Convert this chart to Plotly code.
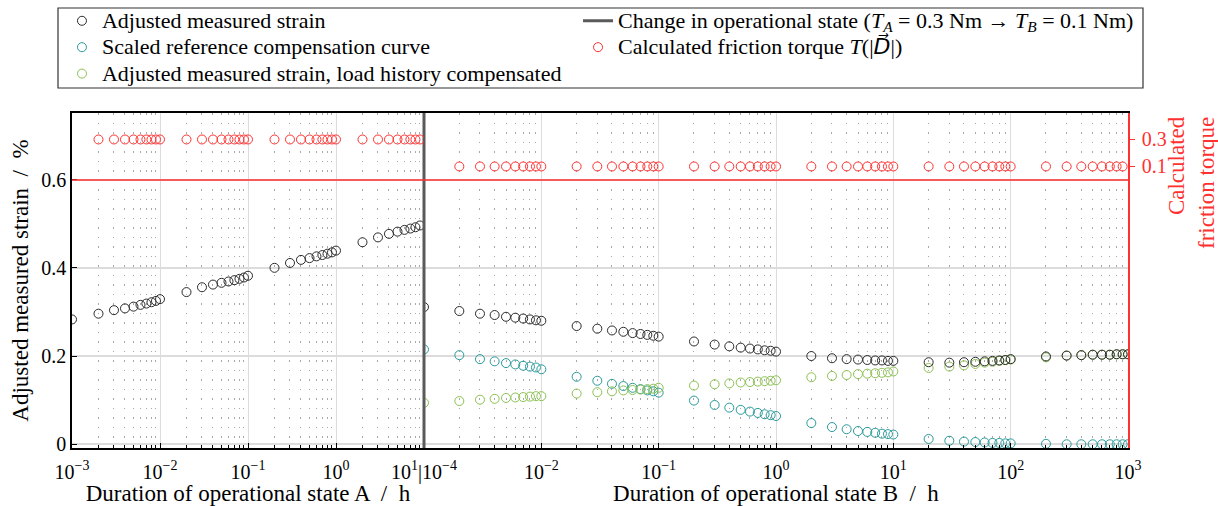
import plotly.graph_objects as go

# ---------------- data ----------------
# left panel: duration of operational state A (h)
xa_black = [0.001,
            0.002, 0.003, 0.004, 0.005, 0.006, 0.007, 0.008, 0.009, 0.01,
            0.02, 0.03, 0.04, 0.05, 0.06, 0.07, 0.08, 0.09, 0.1,
            0.2, 0.3, 0.4, 0.5, 0.6, 0.7, 0.8, 0.9, 1.0,
            2, 3, 4, 5, 6, 7, 8, 9]
ya_black = [0.283,
            0.296, 0.304, 0.308, 0.312, 0.316, 0.319, 0.322, 0.325, 0.329,
            0.345, 0.356, 0.362, 0.366, 0.369, 0.372, 0.375, 0.378, 0.382,
            0.400, 0.411, 0.418, 0.422, 0.426, 0.429, 0.432, 0.435, 0.439,
            0.458, 0.469, 0.477, 0.482, 0.486, 0.489, 0.492, 0.496]
xa_red = [0.002, 0.003, 0.004, 0.005, 0.006, 0.007, 0.008, 0.009, 0.01,
          0.02, 0.03, 0.04, 0.05, 0.06, 0.07, 0.08, 0.09, 0.1,
          0.2, 0.3, 0.4, 0.5, 0.6, 0.7, 0.8, 0.9, 1.0,
          2, 3, 4, 5, 6, 7, 8, 9]
ya_red = [0.3] * len(xa_red)

# right panel: duration of operational state B (h)
xb = [0.001,
      0.002, 0.003, 0.004, 0.005, 0.006, 0.007, 0.008, 0.009, 0.01,
      0.02, 0.03, 0.04, 0.05, 0.06, 0.07, 0.08, 0.09, 0.1,
      0.2, 0.3, 0.4, 0.5, 0.6, 0.7, 0.8, 0.9, 1.0,
      2, 3, 4, 5, 6, 7, 8, 9, 10,
      20, 30, 40, 50, 60, 70, 80, 90, 100,
      200, 300, 400, 500, 600, 700, 800, 900, 1000]
yb_black = [0.311,
            0.302, 0.296, 0.293, 0.289, 0.287, 0.285, 0.283, 0.281, 0.280,
            0.268, 0.262, 0.258, 0.255, 0.252, 0.250, 0.248, 0.246, 0.244,
            0.233, 0.226, 0.222, 0.219, 0.217, 0.215, 0.213, 0.212, 0.210,
            0.200, 0.195, 0.193, 0.192, 0.191, 0.190, 0.190, 0.189, 0.189,
            0.186, 0.185, 0.186, 0.187, 0.188, 0.189, 0.190, 0.191, 0.193,
            0.199, 0.201, 0.202, 0.203, 0.203, 0.203, 0.204, 0.204, 0.204]
yb_teal = [0.215,
           0.202, 0.193, 0.188, 0.184, 0.181, 0.178, 0.176, 0.174, 0.170,
           0.153, 0.144, 0.137, 0.132, 0.128, 0.125, 0.122, 0.120, 0.117,
           0.099, 0.089, 0.083, 0.078, 0.074, 0.071, 0.068, 0.066, 0.064,
           0.048, 0.039, 0.034, 0.030, 0.028, 0.026, 0.024, 0.023, 0.022,
           0.012, 0.008, 0.006, 0.005, 0.004, 0.003, 0.003, 0.002, 0.002,
           0.001, 0.000, 0.000, 0.000, 0.000, 0.000, 0.000, 0.000, 0.000]
yb_green = [0.094,
            0.098, 0.101, 0.103, 0.105, 0.106, 0.107, 0.108, 0.109, 0.109,
            0.115, 0.118, 0.120, 0.122, 0.123, 0.124, 0.125, 0.126, 0.128,
            0.133, 0.136, 0.138, 0.140, 0.141, 0.142, 0.143, 0.144, 0.145,
            0.152, 0.155, 0.157, 0.159, 0.160, 0.161, 0.162, 0.163, 0.165,
            0.173, 0.176, 0.179, 0.182, 0.185, 0.187, 0.189, 0.191, 0.192,
            0.197, 0.201, 0.202, 0.203, 0.203, 0.203, 0.204, 0.204, 0.204]
xb_red = [0.002, 0.003, 0.004, 0.005, 0.006, 0.007, 0.008, 0.009, 0.01,
          0.02, 0.03, 0.04, 0.05, 0.06, 0.07, 0.08, 0.09, 0.1,
          0.2, 0.3, 0.4, 0.5, 0.6, 0.7, 0.8, 0.9, 1.0,
          2, 3, 4, 5, 6, 7, 8, 9, 10,
          20, 30, 40, 50, 60, 70, 80, 90, 100,
          200, 300, 400, 500, 600, 700, 800, 900]
yb_red = [0.1] * len(xb_red)

# change of operational state: end of state A (left) = start of state B (right)
change_xa = [10, 10]
change_xb = [0.001, 0.001]
change_y = [-0.05, 0.8]

left_ticks = [0.001, 0.01, 0.1, 1, 10]
left_ticktext = ["10<sup>−3</sup>", "10<sup>−2</sup>", "10<sup>−1</sup>",
                 "10<sup>0</sup>", "10<sup>1</sup>|10<sup>−4</sup>"]
right_ticks = [0.001, 0.01, 0.1, 1, 10, 100, 1000]
right_ticktext = ["", "10<sup>−2</sup>", "10<sup>−1</sup>", "10<sup>0</sup>",
                  "10<sup>1</sup>", "10<sup>2</sup>", "10<sup>3</sup>"]
y_ticks = [0, 0.2, 0.4, 0.6]
y2_ticks = [0.1, 0.3]

# ---------------- styling ----------------
FONT = "Liberation Serif"
C_BLACK = "#2b2b2b"
C_TEAL = "#2a9a9a"
C_GREEN = "#8cc152"
C_RED = "#ff3030"
C_CHANGE = "#5a5a5a"
MS = 9

def mk(color):
    return dict(symbol="circle-open", size=MS, color=color, line=dict(width=1, color=color))

def lg(txt):
    return "<span style='font-size:22px'>" + txt + "</span>"

fig = go.Figure()
fig.add_trace(go.Scatter(x=xa_black, y=ya_black, mode="markers", marker=mk(C_BLACK),
                         name=lg("Adjusted measured strain"), xaxis="x", yaxis="y",
                         legend="legend", legendgroup="a", legendrank=1))
fig.add_trace(go.Scatter(x=xb, y=yb_teal, mode="markers", marker=mk(C_TEAL),
                         name=lg("Scaled reference compensation curve"),
                         xaxis="x2", yaxis="y", legend="legend", legendrank=2))
fig.add_trace(go.Scatter(x=xb, y=yb_green, mode="markers", marker=mk(C_GREEN),
                         name=lg("Adjusted measured strain, load history compensated"),
                         xaxis="x2", yaxis="y", legend="legend", legendrank=3))
fig.add_trace(go.Scatter(x=xb, y=yb_black, mode="markers", marker=mk(C_BLACK),
                         showlegend=False, xaxis="x2", yaxis="y", legendgroup="a"))
fig.add_trace(go.Scatter(x=change_xa, y=change_y, mode="lines",
                         line=dict(color=C_CHANGE, width=3),
                         name=lg("Change in operational state (<i>T</i><sub><i>A</i></sub> = 0.3 Nm → <i>T</i><sub><i>B</i></sub> = 0.1 Nm)"),
                         xaxis="x", yaxis="y", legend="legend2", legendrank=1,
                         legendgroup="c"))
fig.add_trace(go.Scatter(x=change_xb, y=change_y, mode="lines",
                         line=dict(color=C_CHANGE, width=3), showlegend=False,
                         xaxis="x2", yaxis="y", legendgroup="c"))
fig.add_trace(go.Scatter(x=xa_red, y=ya_red, mode="markers", marker=mk(C_RED),
                         name=lg("Calculated friction torque <i>T</i>(|<span style='font-family:DejaVu Sans'><i>D\u20d7</i></span>|)"),
                         xaxis="x", yaxis="y2", legend="legend2", legendgroup="r",
                         legendrank=2))
fig.add_trace(go.Scatter(x=xb_red, y=yb_red, mode="markers", marker=mk(C_RED),
                         showlegend=False, xaxis="x2", yaxis="y2", legendgroup="r"))

def minor_vals(lo, hi):
    vals = []
    for d in range(lo, hi):
        for k in range(2, 10):
            vals.append(k * 10.0 ** d)
    return vals

common_x = dict(type="log", showline=True, linecolor="black", linewidth=1.5,
                mirror=True, ticks="inside", ticklen=5, tickcolor="black",
                showgrid=True, gridcolor="#dcdcdc", gridwidth=1.2,
                zeroline=False, tickfont=dict(family=FONT, size=20, color="black"),
                ticklabelstandoff=5,
                title_font=dict(family=FONT, size=23, color="black"),
                title_standoff=5)

minor_style = dict(tickmode="array", ticks="inside", ticklen=3, tickcolor="black",
                   showgrid=True, gridcolor="#a8a8a8", griddash="1.5px,8px", gridwidth=1)

leg_common = dict(orientation="v", yanchor="top", xanchor="left", borderwidth=0,
                  bgcolor="rgba(0,0,0,0)", font=dict(family=FONT, size=18, color="black"),
                  tracegroupgap=0, itemwidth=30, traceorder="normal")

fig.update_layout(
    width=1218, height=506,
    margin=dict(l=72, r=90, t=113, b=58, autoexpand=False),
    paper_bgcolor="white", plot_bgcolor="white",
    font=dict(family=FONT, size=21, color="black"),
    xaxis=dict(domain=[0, 1/3], range=[-3, 1], tickmode="array",
               tickvals=left_ticks, ticktext=left_ticktext,
               minor=dict(tickvals=minor_vals(-3, 1), **minor_style),
               title=dict(text="Duration of operational state A  /  h"),
               anchor="y", **common_x),
    xaxis2=dict(domain=[1/3, 1], range=[-3, 3], tickmode="array",
                tickvals=right_ticks, ticktext=right_ticktext,
                minor=dict(tickvals=minor_vals(-3, 3), **minor_style),
                title=dict(text="Duration of operational state B  /  h"),
                anchor="y", **common_x),
    yaxis=dict(range=[-0.0085, 0.751], tickmode="array", tickvals=y_ticks,
               ticktext=["0", "0.2", "0.4", "0.6"],
               showline=True, linecolor="black", linewidth=1.5, ticks="inside",
               ticklen=5, tickcolor="black", showgrid=True, gridcolor="#dcdcdc",
               gridwidth=1.5, zeroline=False, anchor="x",
               tickfont=dict(family=FONT, size=20, color="black"),
               title=dict(text="Adjusted measured strain  /  %",
                          font=dict(family=FONT, size=23, color="black"), standoff=6)),
    yaxis2=dict(overlaying="y", side="right", anchor="x2", range=[-1.985, 0.496],
                tickmode="array", tickvals=y2_ticks, ticktext=["0.1", "0.3"],
                showline=True, linecolor=C_RED, linewidth=1.5, ticks="outside",
                ticklen=5, tickcolor=C_RED, showgrid=False, zeroline=False,
                ticklabelstandoff=3,
                tickfont=dict(family=FONT, size=20, color=C_RED)),
    legend=dict(x=-0.0095, y=1.3296, **leg_common),
    legend2=dict(x=0.4792, y=1.3296, **leg_common),
    showlegend=True,
)

# legend frame
fig.add_shape(type="rect", xref="paper", yref="paper",
              x0=-0.01326, x1=1.0142, y0=1.0746, y1=1.3134,
              line=dict(color="#333", width=1.2), fillcolor="rgba(0,0,0,0)")

# red reference line at zero friction torque
fig.add_shape(type="line", xref="paper", x0=0, x1=1, yref="y2", y0=0, y1=0,
              line=dict(color=C_RED, width=1.5))

fig.add_annotation(text="Calculated<br>friction torque", xref="paper", yref="paper",
                   x=1.0596, y=0.794, xanchor="center", yanchor="middle", textangle=-90,
                   showarrow=False, align="right",
                   font=dict(family=FONT, size=23, color=C_RED))

fig.write_html("out.html", config={"displayModeBar": False},
               post_script="document.body.style.margin='0';document.body.style.overflow='hidden';")
